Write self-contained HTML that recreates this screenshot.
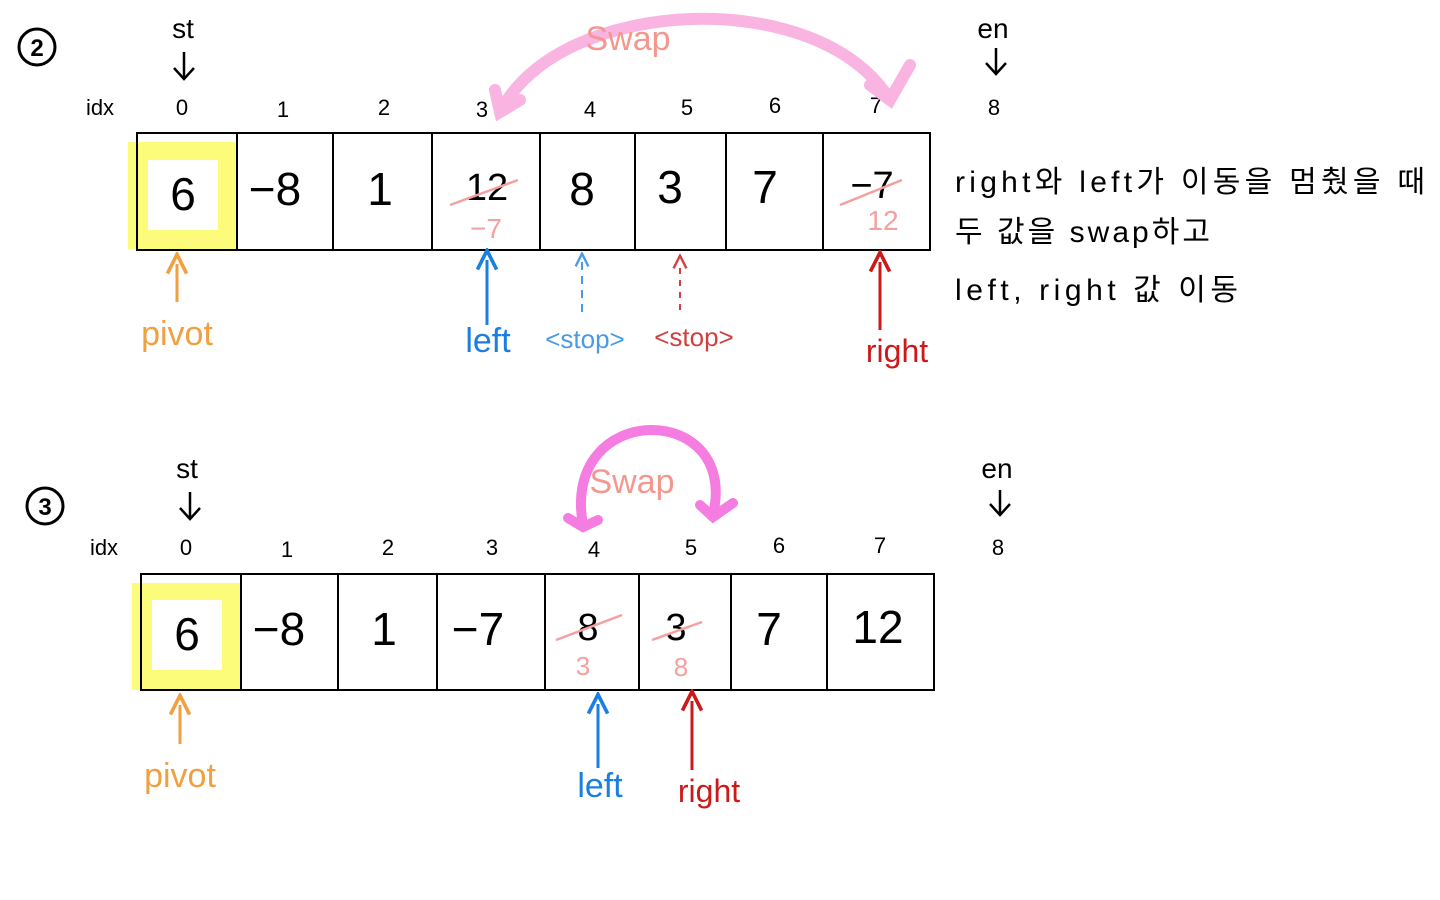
<!DOCTYPE html>
<html><head><meta charset="utf-8"><style>
html,body{margin:0;padding:0;background:#fff;}
svg{display:block;}
text{font-family:"Liberation Sans","Noto Sans CJK KR",sans-serif;}
</style></head><body>
<svg width="1440" height="900" viewBox="0 0 1440 900" xmlns="http://www.w3.org/2000/svg">
<defs>
<marker id="ah" viewBox="0 0 10 10" refX="5" refY="5" markerWidth="8" markerHeight="8" orient="auto-start-reverse"><path d="M1,1 L9,5 L1,9" fill="none" stroke="context-stroke" stroke-width="1.5"/></marker>
</defs>
<rect width="1440" height="900" fill="#fff"/>

<!-- ROW 1 -->
<circle cx="37" cy="47" r="18" fill="none" stroke="#000" stroke-width="3"/>
<text x="37" y="56" font-size="24" text-anchor="middle" font-weight="bold">2</text>
<text x="183" y="38" font-size="28" text-anchor="middle">st</text>
<line x1="184" y1="52" x2="184" y2="78" stroke="#000" stroke-width="2.5"/>
<path d="M174,68 L184,79 L194,68" fill="none" stroke="#000" stroke-width="2.5"/>
<text x="993" y="38" font-size="28" text-anchor="middle">en</text>
<line x1="996" y1="48" x2="996" y2="73" stroke="#000" stroke-width="2.5"/>
<path d="M986,63 L996,74 L1006,63" fill="none" stroke="#000" stroke-width="2.5"/>

<g font-size="22" text-anchor="middle">
<text x="100" y="115">idx</text><text x="182" y="115">0</text><text x="283" y="117">1</text><text x="384" y="115">2</text><text x="482" y="117">3</text><text x="590" y="117">4</text><text x="687" y="115">5</text><text x="775" y="113">6</text><text x="876" y="113">7</text><text x="994" y="115">8</text>
</g>

<path d="M500,112 C560,-5 820,-15 890,100" fill="none" stroke="#f9b4e2" stroke-width="12" stroke-linecap="round"/>
<path d="M495,90 L500,112 L520,100" fill="none" stroke="#f9b4e2" stroke-width="12" stroke-linecap="round"/>
<path d="M870,85 L890,100 L910,65" fill="none" stroke="#f9b4e2" stroke-width="12" stroke-linecap="round"/>
<text x="628" y="50" font-size="34" fill="#f4978e" text-anchor="middle">Swap</text>

<rect x="128" y="142" width="109" height="107" fill="#fdfb7a"/>
<rect x="148" y="160" width="70" height="70" fill="#fff"/>
<rect x="137" y="133" width="793" height="117" fill="none" stroke="#000" stroke-width="2"/>
<g stroke="#000" stroke-width="2">
<line x1="237" y1="133" x2="237" y2="250"/><line x1="333" y1="133" x2="333" y2="250"/><line x1="432" y1="133" x2="432" y2="250"/><line x1="540" y1="133" x2="540" y2="250"/><line x1="635" y1="133" x2="635" y2="250"/><line x1="726" y1="133" x2="726" y2="250"/><line x1="823" y1="133" x2="823" y2="250"/>
</g>
<g font-size="46" text-anchor="middle">
<text x="183" y="210">6</text><text x="275" y="205">−8</text><text x="380" y="205">1</text><text x="487" y="200" font-size="38">12</text><text x="582" y="205">8</text><text x="670" y="203">3</text><text x="765" y="203">7</text><text x="872" y="198" font-size="38">−7</text>
</g>
<line x1="450" y1="205" x2="518" y2="180" stroke="#f4a0a0" stroke-width="2.5"/>
<text x="486" y="238" font-size="28" fill="#f4a0a0" text-anchor="middle">−7</text>
<line x1="840" y1="205" x2="902" y2="180" stroke="#f4a0a0" stroke-width="2.5"/>
<text x="883" y="230" font-size="28" fill="#f4a0a0" text-anchor="middle">12</text>

<line x1="177" y1="302" x2="177" y2="264" stroke="#f0a040" stroke-width="3" marker-end="url(#ah)"/>
<text x="177" y="345" font-size="34" fill="#f0a040" text-anchor="middle">pivot</text>
<line x1="487" y1="325" x2="487" y2="260" stroke="#1a7fe0" stroke-width="3" marker-end="url(#ah)"/>
<text x="488" y="352" font-size="34" fill="#1a7fe0" text-anchor="middle">left</text>
<line x1="582" y1="312" x2="582" y2="260" stroke="#4a9ae6" stroke-width="2" stroke-dasharray="8,6" marker-end="url(#ah)"/>
<text x="585" y="348" font-size="26" fill="#4a9ae6" text-anchor="middle">&lt;stop&gt;</text>
<line x1="680" y1="310" x2="680" y2="262" stroke="#d04040" stroke-width="2" stroke-dasharray="6,6" marker-end="url(#ah)"/>
<text x="694" y="346" font-size="26" fill="#d04040" text-anchor="middle">&lt;stop&gt;</text>
<line x1="880" y1="330" x2="880" y2="262" stroke="#cc1a1a" stroke-width="3" marker-end="url(#ah)"/>
<text x="897" y="362" font-size="32" fill="#cc1a1a" text-anchor="middle">right</text>

<g font-size="30">
<text x="955" y="192" textLength="470" lengthAdjust="spacing">right와  left가 이동을 멈췄을 때</text>
<text x="955" y="242" textLength="255" lengthAdjust="spacing">두 값을  swap하고</text>
<text x="955" y="300" textLength="283" lengthAdjust="spacing">left, right 값  이동</text>
</g>

<!-- ROW 2 -->
<circle cx="45" cy="506" r="18" fill="none" stroke="#000" stroke-width="3"/>
<text x="45" y="515" font-size="24" text-anchor="middle" font-weight="bold">3</text>
<text x="187" y="478" font-size="28" text-anchor="middle">st</text>
<line x1="190" y1="492" x2="190" y2="518" stroke="#000" stroke-width="2.5"/>
<path d="M180,508 L190,519 L200,508" fill="none" stroke="#000" stroke-width="2.5"/>
<text x="997" y="478" font-size="28" text-anchor="middle">en</text>
<line x1="1000" y1="490" x2="1000" y2="514" stroke="#000" stroke-width="2.5"/>
<path d="M990,504 L1000,515 L1010,504" fill="none" stroke="#000" stroke-width="2.5"/>

<g font-size="22" text-anchor="middle">
<text x="104" y="555">idx</text><text x="186" y="555">0</text><text x="287" y="557">1</text><text x="388" y="555">2</text><text x="492" y="555">3</text><text x="594" y="557">4</text><text x="691" y="555">5</text><text x="779" y="553">6</text><text x="880" y="553">7</text><text x="998" y="555">8</text>
</g>

<path d="M583,525 C560,400 740,400 713,515" fill="none" stroke="#f57ce0" stroke-width="10" stroke-linecap="round"/>
<path d="M568,518 L583,527 L598,520" fill="none" stroke="#f57ce0" stroke-width="10" stroke-linecap="round"/>
<path d="M700,505 L713,517 L733,503" fill="none" stroke="#f57ce0" stroke-width="10" stroke-linecap="round"/>
<text x="632" y="493" font-size="34" fill="#f4978e" text-anchor="middle">Swap</text>

<rect x="132" y="583" width="109" height="107" fill="#fdfb7a"/>
<rect x="152" y="600" width="70" height="70" fill="#fff"/>
<rect x="141" y="574" width="793" height="116" fill="none" stroke="#000" stroke-width="2"/>
<g stroke="#000" stroke-width="2">
<line x1="241" y1="574" x2="241" y2="690"/><line x1="338" y1="574" x2="338" y2="690"/><line x1="437" y1="574" x2="437" y2="690"/><line x1="545" y1="574" x2="545" y2="690"/><line x1="639" y1="574" x2="639" y2="690"/><line x1="731" y1="574" x2="731" y2="690"/><line x1="827" y1="574" x2="827" y2="690"/>
</g>
<g font-size="46" text-anchor="middle">
<text x="187" y="650">6</text><text x="279" y="645">−8</text><text x="384" y="645">1</text><text x="478" y="645">−7</text><text x="588" y="640" font-size="38">8</text><text x="676" y="640" font-size="38">3</text><text x="769" y="645">7</text><text x="878" y="643">12</text>
</g>
<line x1="556" y1="640" x2="622" y2="615" stroke="#f4a0a0" stroke-width="2.5"/>
<text x="583" y="675" font-size="26" fill="#f4a0a0" text-anchor="middle">3</text>
<line x1="652" y1="640" x2="702" y2="622" stroke="#f4a0a0" stroke-width="2.5"/>
<text x="681" y="676" font-size="26" fill="#f4a0a0" text-anchor="middle">8</text>

<line x1="180" y1="744" x2="180" y2="705" stroke="#f0a040" stroke-width="3" marker-end="url(#ah)"/>
<text x="180" y="787" font-size="34" fill="#f0a040" text-anchor="middle">pivot</text>
<line x1="598" y1="768" x2="598" y2="704" stroke="#1a7fe0" stroke-width="3" marker-end="url(#ah)"/>
<text x="600" y="797" font-size="34" fill="#1a7fe0" text-anchor="middle">left</text>
<line x1="692" y1="770" x2="692" y2="701" stroke="#cc1a1a" stroke-width="3" marker-end="url(#ah)"/>
<text x="709" y="802" font-size="32" fill="#cc1a1a" text-anchor="middle">right</text>
</svg>
</body></html>
